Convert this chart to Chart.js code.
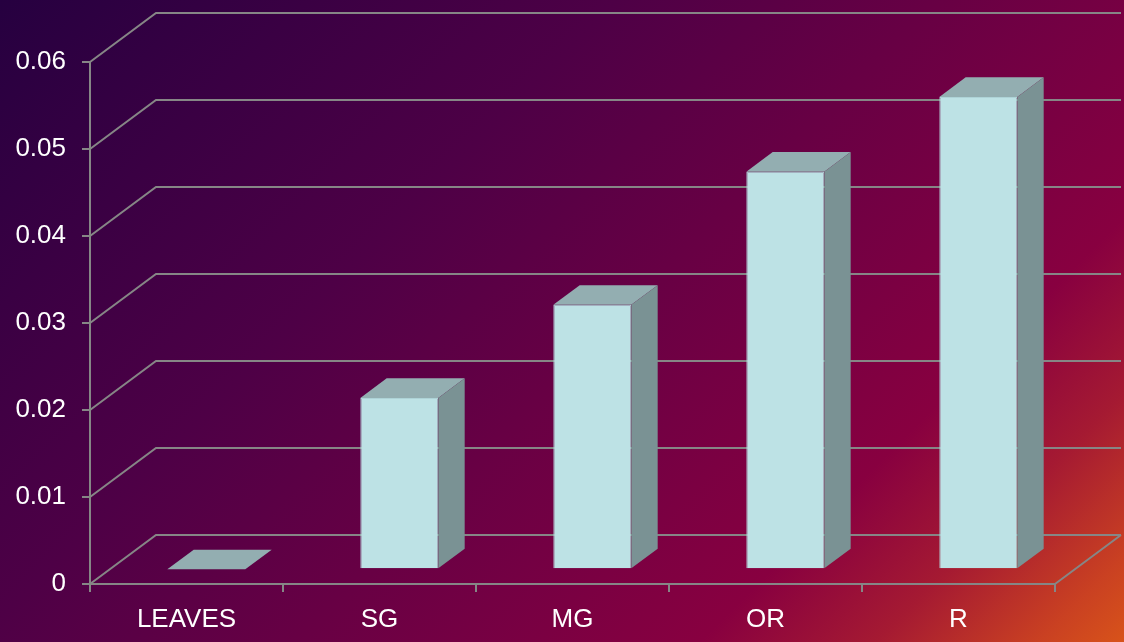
<!DOCTYPE html>
<html>
<head>
<meta charset="utf-8">
<script src="https://cdn.jsdelivr.net/npm/chart.js@4/dist/chart.umd.min.js"></script>
<style>
  body { margin: 0; background: #2a0040; }
  canvas { display: block; }
</style>
</head>
<body>
<canvas id="chart" width="1124" height="642"></canvas>
<script>
// sample groups and measured values
const categories = ['LEAVES', 'SG', 'MG', 'OR', 'R'];
const values = [0, 0.0197, 0.0304, 0.0457, 0.0543];
const yTicks = [0, 0.01, 0.02, 0.03, 0.04, 0.05, 0.06];

// 3D look
const DX = 66, DY = 49;          // depth of the floor / back wall
const BAR_FRONT = 0.3;           // where the bars start inside the depth
const BAR_DEPTH = 0.4;           // how deep each bar is
const GRID = '#868686';
const FACE = '#bde2e5', TOP = '#93aeb1', SIDE = '#7a9294';

Chart.defaults.font.family = '"Liberation Sans", Arial, sans-serif';
Chart.defaults.font.size = 26;
Chart.defaults.color = '#ffffff';

const backdrop = {
  id: 'backdrop',
  beforeDraw(chart) {
    const { ctx, width, height } = chart;
    const g = ctx.createLinearGradient(0, 0, 883, 883);
    g.addColorStop(0, '#260040');
    g.addColorStop(0.35, '#4e0046');
    g.addColorStop(0.62, '#740043');
    g.addColorStop(0.76, '#880040');
    g.addColorStop(0.86, '#a51a32');
    g.addColorStop(0.95, '#c94022');
    g.addColorStop(1, '#d8531a');
    ctx.save();
    ctx.fillStyle = g;
    ctx.fillRect(0, 0, width, height);
    ctx.restore();
  }
};

const box3d = {
  id: 'box3d',
  beforeDatasetsDraw(chart) {
    const { ctx, chartArea: a, scales: { y } } = chart;
    ctx.save();
    ctx.strokeStyle = GRID;
    ctx.lineWidth = 2;
    ctx.beginPath();
    y.ticks.forEach(t => {
      const py = y.getPixelForValue(t.value);
      ctx.moveTo(a.left, py);
      ctx.lineTo(a.left + DX, py - DY);
      ctx.lineTo(a.right + DX, py - DY);
    });
    const p0 = y.getPixelForValue(0);
    ctx.moveTo(a.right, p0);
    ctx.lineTo(a.right + DX, p0 - DY);
    ctx.stroke();
    ctx.restore();

    // push the bar fronts back into the floor
    ctx.save();
    ctx.translate(DX * BAR_FRONT, -DY * BAR_FRONT);
  },
  afterDatasetsDraw(chart) {
    const { ctx } = chart;
    const dx = DX * BAR_DEPTH, dy = DY * BAR_DEPTH;
    chart.getDatasetMeta(0).data.forEach(bar => {
      const { x, y, base, width } = bar.getProps(['x', 'y', 'base', 'width'], true);
      const l = x - width / 2, r = x + width / 2;
      ctx.fillStyle = TOP;
      ctx.beginPath();
      ctx.moveTo(l, y);
      ctx.lineTo(l + dx, y - dy);
      ctx.lineTo(r + dx, y - dy);
      ctx.lineTo(r, y);
      ctx.closePath();
      ctx.fill();
      ctx.fillStyle = SIDE;
      ctx.beginPath();
      ctx.moveTo(r, y);
      ctx.lineTo(r + dx, y - dy);
      ctx.lineTo(r + dx, base - dy);
      ctx.lineTo(r, base);
      ctx.closePath();
      ctx.fill();
    });
    ctx.restore();
  }
};

new Chart(document.getElementById('chart'), {
  type: 'bar',
  data: {
    labels: categories,
    datasets: [{
      data: values,
      backgroundColor: FACE,
      borderColor: '#aed3d7',
      borderWidth: 1,
      barPercentage: 0.404,
      categoryPercentage: 1,
      clip: false
    }]
  },
  options: {
    responsive: false,
    devicePixelRatio: 1,
    animation: false,
    layout: { padding: { top: 62, right: 69, left: 0, bottom: 0 } },
    plugins: { legend: { display: false }, tooltip: { enabled: false } },
    scales: {
      x: {
        grid: { drawOnChartArea: false, drawTicks: true, tickLength: 8, color: GRID, lineWidth: 2, offset: true },
        border: { color: GRID, width: 2 },
        ticks: { padding: 12, color: '#ffffff' },
        afterFit: s => { s.height = 58; }
      },
      y: {
        min: 0,
        max: 0.06,
        grid: { drawOnChartArea: false, drawTicks: true, tickLength: 8, color: GRID, lineWidth: 2 },
        border: { color: GRID, width: 2 },
        ticks: { padding: 16, color: '#ffffff', callback: v => v === 0 ? '0' : v.toFixed(2) },
        afterBuildTicks: s => { s.ticks = yTicks.map(v => ({ value: v })); },
        afterFit: s => { s.width = 90; }
      }
    }
  },
  plugins: [backdrop, box3d]
});
</script>
</body>
</html>
